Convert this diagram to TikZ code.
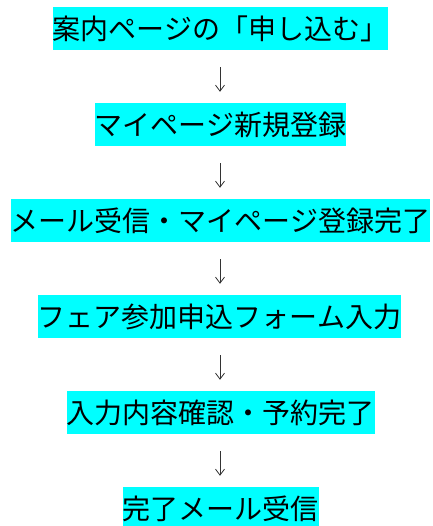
\documentclass[tikz,border=0pt]{standalone}
\usepackage{fontspec}
\newfontfamily\cjk{Noto Sans CJK JP}
\usetikzlibrary{arrows.meta}
\definecolor{boxcyan}{HTML}{00FFFF}
\definecolor{arrowgray}{HTML}{333333}
\tikzset{
  stepbox/.style={fill=boxcyan, inner xsep=0pt, inner ysep=0pt, minimum height=43pt,
    font=\cjk\fontsize{28}{28}\selectfont, text=black},
  flowarrow/.style={draw=arrowgray, line width=0.8pt,
    -{Straight Barb[length=6pt,width=9pt,line width=0.8pt]},
    shorten <=17pt, shorten >=11pt}
}
\newcommand{\lowtext}[1]{\raisebox{-2pt}{#1}}
\begin{document}
\begin{tikzpicture}[x=1pt,y=1pt]
\useasboundingbox (0,0) rectangle (432,-526);
\clip (0,0) rectangle (432,-526);
\node[stepbox] (b1) at (220.5,-28.5) {\lowtext{案内ページの「申し込む」}};
\node[stepbox] (b2) at (220.5,-124.5) {\lowtext{マイページ新規登録}};
\node[stepbox] (b3) at (220.5,-220.5) {\lowtext{メール受信・マイページ登録完了}};
\node[stepbox] (b4) at (219.5,-316.5) {\lowtext{フェア参加申込フォーム入力}};
\node[stepbox] (b5) at (220.5,-412.5) {\lowtext{入力内容確認・予約完了}};
\node[stepbox] (b6) at (220.5,-508.5) {\lowtext{完了メール受信}};
\draw[flowarrow] (b1.south -| 220,0) -- (b2.north -| 220,0);
\draw[flowarrow] (b2.south -| 220,0) -- (b3.north -| 220,0);
\draw[flowarrow] (b3.south -| 220,0) -- (b4.north -| 220,0);
\draw[flowarrow] (b4.south -| 220,0) -- (b5.north -| 220,0);
\draw[flowarrow] (b5.south -| 220,0) -- (b6.north -| 220,0);
\end{tikzpicture}
\end{document}
